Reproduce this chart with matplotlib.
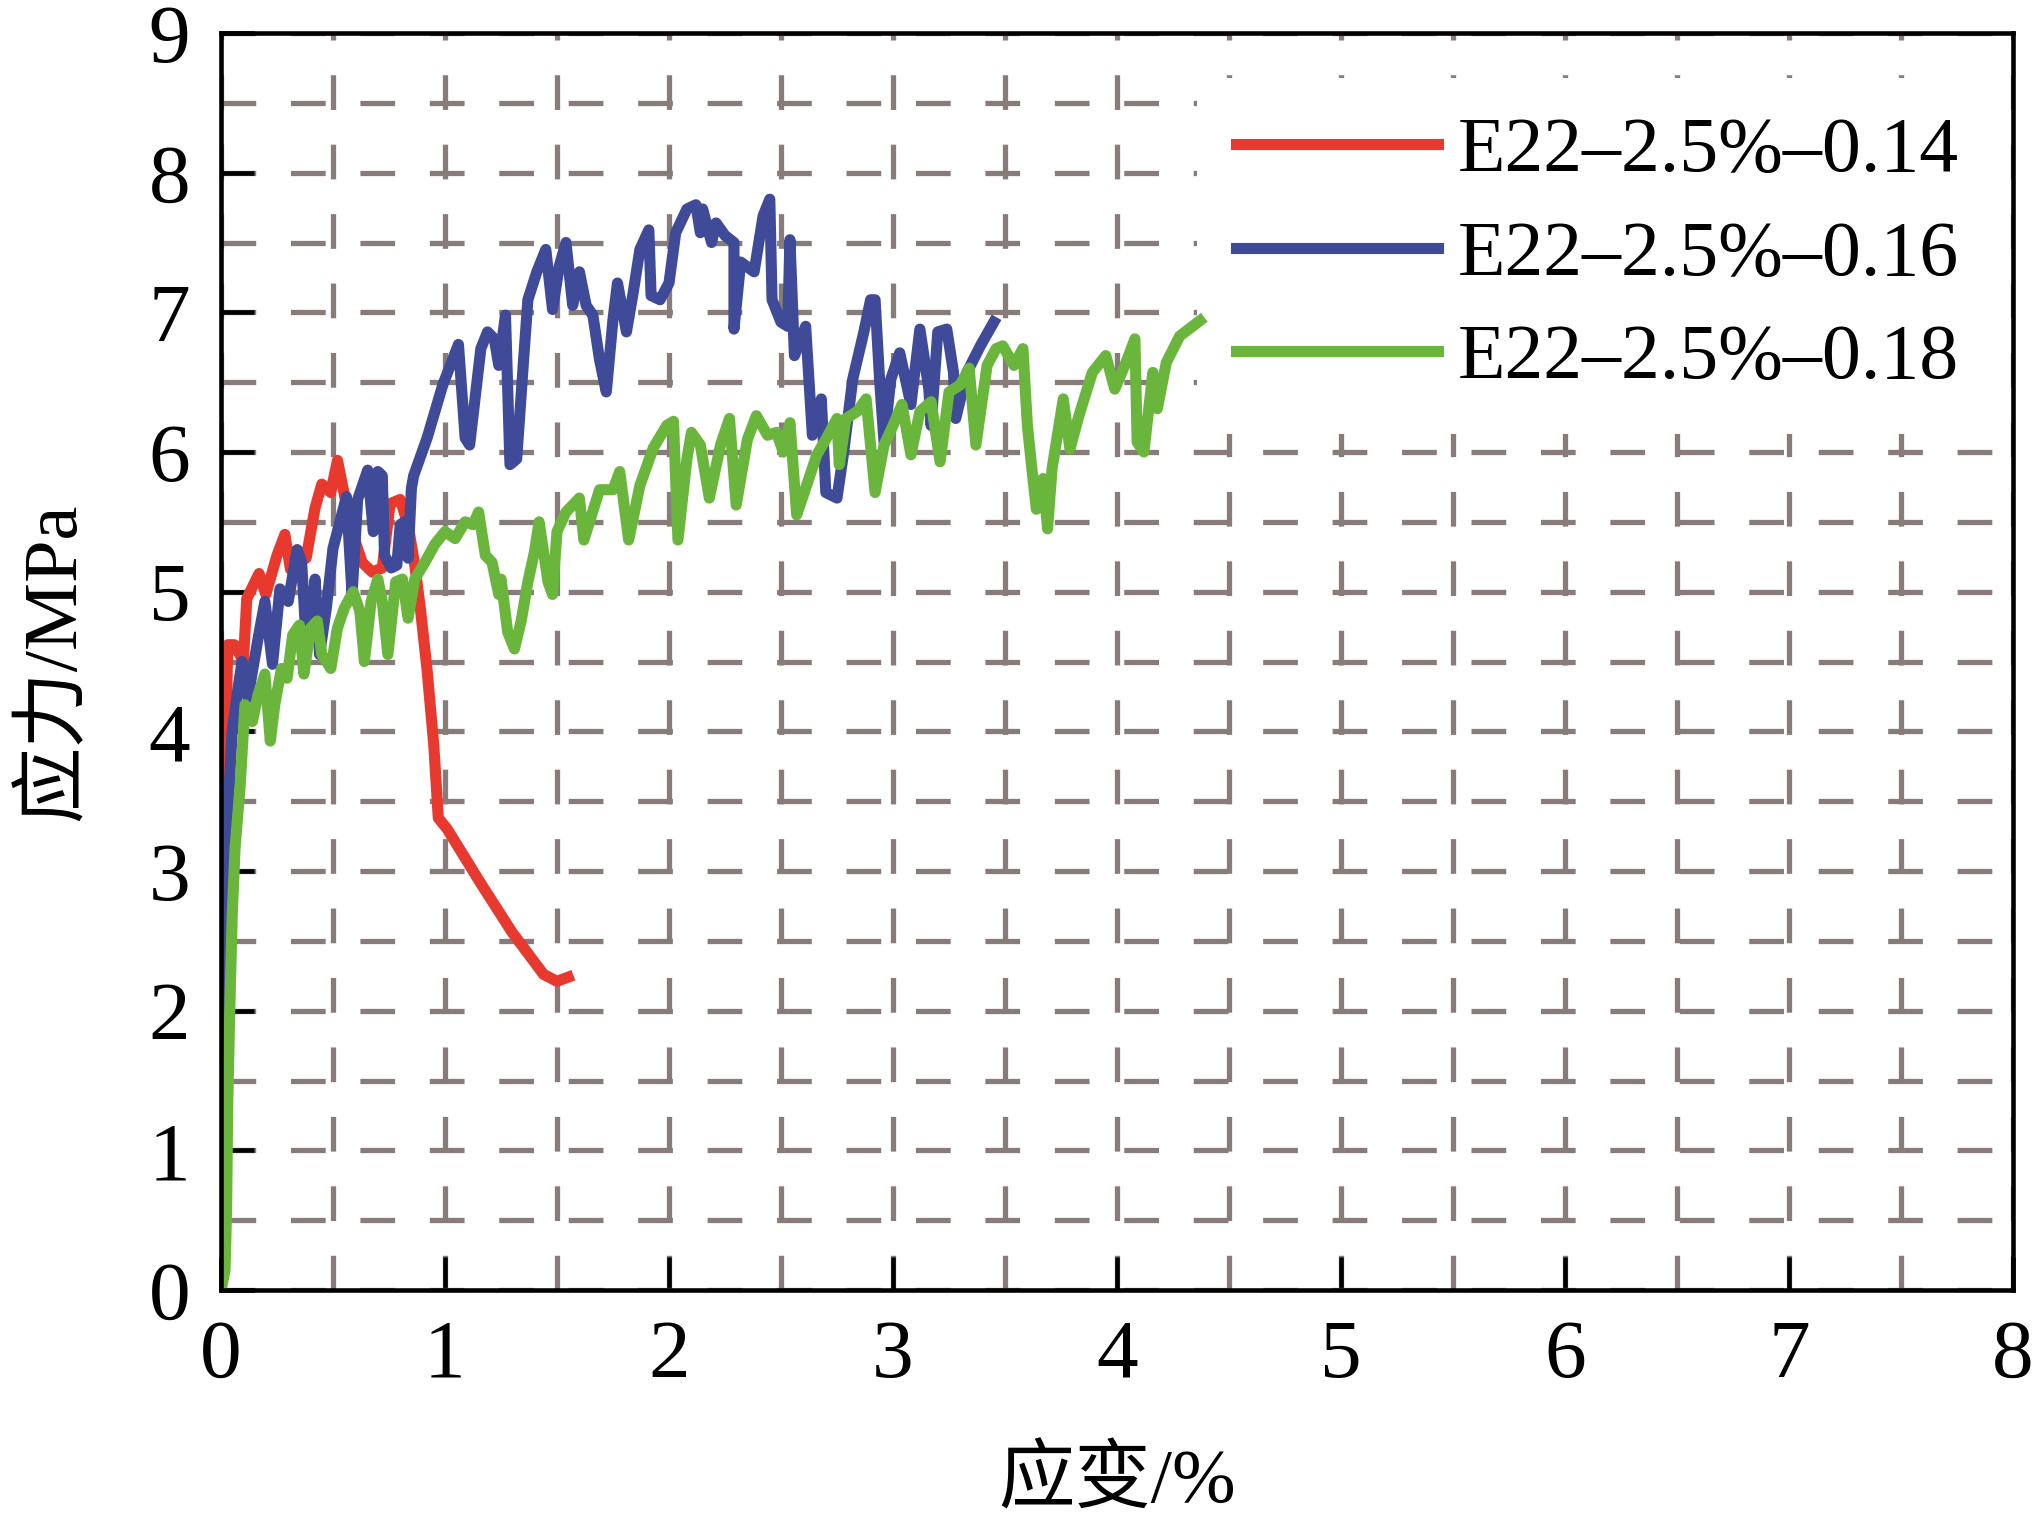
import matplotlib
matplotlib.use("Agg")
import matplotlib.pyplot as plt
from matplotlib.ticker import MultipleLocator

plt.rcParams["font.family"] = ["Liberation Serif", "Noto Sans CJK SC"]
plt.rcParams["lines.scale_dashes"] = False

# E22-2.5%-0.14
x_014 = [0, 0.01, 0.018, 0.03, 0.06, 0.1, 0.115, 0.17, 0.2, 0.25, 0.285, 0.31, 0.34, 0.38,
         0.42, 0.45, 0.49, 0.52, 0.55, 0.585, 0.63, 0.675, 0.72, 0.755, 0.8, 0.835, 0.865,
         0.89, 0.92, 0.95, 0.97, 1.01, 1.16, 1.30, 1.44, 1.50, 1.55]
y_014 = [0, 2.0, 3.6, 4.62, 4.62, 4.5, 4.95, 5.13, 4.98, 5.26, 5.41, 5.16, 5.3, 5.24,
         5.6, 5.77, 5.71, 5.94, 5.7, 5.43, 5.21, 5.14, 5.17, 5.63, 5.66, 5.48, 5.19,
         4.88, 4.44, 3.9, 3.38, 3.3, 2.91, 2.56, 2.26, 2.21, 2.24]

# E22-2.5%-0.16
x_016 = [0, 0.01, 0.018, 0.03, 0.05, 0.076, 0.094, 0.12, 0.165, 0.196, 0.23, 0.263, 0.3,
         0.34, 0.36, 0.375, 0.405, 0.42, 0.44, 0.47, 0.5, 0.56, 0.585, 0.61, 0.655, 0.68,
         0.7, 0.72, 0.73, 0.76, 0.785, 0.8, 0.82, 0.835, 0.85, 0.86, 0.92, 0.99, 1.06,
         1.09, 1.11, 1.16, 1.19, 1.22, 1.24, 1.27, 1.29, 1.32, 1.35, 1.37, 1.41, 1.45,
         1.48, 1.51, 1.54, 1.57, 1.6, 1.63, 1.66, 1.69, 1.72, 1.75, 1.77, 1.81, 1.84,
         1.87, 1.91, 1.92, 1.96, 2.0, 2.03, 2.08, 2.12, 2.14, 2.15, 2.19, 2.21, 2.25,
         2.29, 2.29, 2.32, 2.38, 2.42, 2.45, 2.46, 2.5, 2.53, 2.54, 2.56, 2.61, 2.63,
         2.64, 2.68, 2.7, 2.75, 2.78, 2.82, 2.87, 2.9, 2.92, 2.94, 2.96, 2.99, 3.03,
         3.08, 3.12, 3.16, 3.17, 3.2, 3.24, 3.27, 3.28, 3.33, 3.39, 3.45]
y_016 = [0, 1.5, 2.5, 3.4, 4.0, 4.31, 4.5, 4.24, 4.66, 4.93, 4.48, 5.02, 4.93,
         5.3, 5.21, 4.79, 4.86, 5.09, 4.55, 4.88, 5.31, 5.68, 4.98, 5.66, 5.87, 5.43,
         5.86, 5.83, 5.26, 5.17, 5.19, 5.48, 5.5, 5.24, 5.74, 5.83, 6.1, 6.48, 6.77,
         6.1, 6.05, 6.74, 6.86, 6.81, 6.62, 6.98, 5.91, 5.95, 6.64, 7.09, 7.29, 7.45,
         7.02, 7.33, 7.5, 7.05, 7.29, 7.05, 6.98, 6.66, 6.43, 6.95, 7.21, 6.86, 7.14,
         7.45, 7.59, 7.12, 7.09, 7.21, 7.57, 7.74, 7.77, 7.57, 7.74, 7.5, 7.64, 7.55,
         7.5, 6.88, 7.36, 7.29, 7.69, 7.81, 7.09, 6.93, 6.9, 7.52, 6.69, 6.9, 6.38,
         6.12, 6.38, 5.71, 5.67, 6.0, 6.52, 6.86, 7.09, 7.09, 6.52, 6.07, 6.52, 6.71,
         6.34, 6.88, 6.45, 6.19, 6.86, 6.88, 6.57, 6.24, 6.57, 6.76, 6.93]

# E22-2.5%-0.18
x_018 = [0, 0.018, 0.025, 0.03, 0.04, 0.05, 0.063, 0.085, 0.107, 0.14, 0.165, 0.196, 0.22,
         0.24, 0.27, 0.295, 0.32, 0.35, 0.37, 0.4, 0.43, 0.45, 0.49, 0.52, 0.55, 0.59,
         0.62, 0.64, 0.67, 0.7, 0.72, 0.745, 0.78, 0.81, 0.835, 0.865, 0.91, 0.955, 1.0,
         1.045, 1.09, 1.125, 1.15, 1.18, 1.21, 1.24, 1.25, 1.28, 1.31, 1.34, 1.37, 1.4,
         1.42, 1.46, 1.48, 1.5, 1.54, 1.6, 1.62, 1.69, 1.75, 1.78, 1.82, 1.87, 1.93,
         1.99, 2.02, 2.04, 2.08, 2.1, 2.14, 2.18, 2.23, 2.27, 2.3, 2.35, 2.39, 2.44,
         2.48, 2.51, 2.54, 2.57, 2.61, 2.66, 2.7, 2.75, 2.76, 2.79, 2.84, 2.88, 2.92,
         2.96, 3.0, 3.04, 3.08, 3.12, 3.17, 3.21, 3.25, 3.3, 3.34, 3.37, 3.42, 3.46,
         3.49, 3.54, 3.58, 3.6, 3.62, 3.64, 3.67, 3.69, 3.71, 3.76, 3.79, 3.83, 3.89,
         3.95, 3.99, 4.04, 4.08, 4.09, 4.12, 4.16, 4.18, 4.22, 4.28, 4.37]
y_018 = [0, 0.14, 0.58, 1.33, 2.06, 2.68, 3.17, 3.6, 4.19, 4.07, 4.26, 4.41, 3.93,
         4.19, 4.45, 4.38, 4.69, 4.76, 4.41, 4.74, 4.79, 4.55, 4.45, 4.74, 4.88, 5.0,
         4.86, 4.5, 4.93, 5.09, 4.93, 4.55, 5.07, 5.09, 4.81, 5.09, 5.21, 5.34, 5.43,
         5.38, 5.5, 5.48, 5.57, 5.26, 5.21, 4.98, 5.09, 4.71, 4.59, 4.79, 5.07, 5.29,
         5.5, 5.07, 4.98, 5.43, 5.57, 5.67, 5.37, 5.73, 5.73, 5.86, 5.37, 5.76, 6.03,
         6.19, 6.22, 5.37, 5.95, 6.14, 6.05, 5.67, 6.05, 6.24, 5.62, 6.09, 6.26, 6.12,
         6.14, 6.0, 6.21, 5.55, 5.74, 5.98, 6.09, 6.24, 5.91, 6.24, 6.29, 6.38, 5.71,
         6.05, 6.19, 6.34, 5.98, 6.29, 6.36, 5.93, 6.43, 6.48, 6.6, 6.05, 6.62, 6.74,
         6.76, 6.62, 6.74, 6.19, 5.88, 5.59, 5.81, 5.45, 5.88, 6.38, 6.02, 6.26, 6.57,
         6.69, 6.45, 6.64, 6.81, 6.07, 6.0, 6.57, 6.31, 6.64, 6.83, 6.94]

labels = ["E22\u20132.5%\u20130.14", "E22\u20132.5%\u20130.16", "E22\u20132.5%\u20130.18"]
colors = ["#e8392f", "#3f4a98", "#6ab63c"]

fig = plt.figure(figsize=(20.4, 15.25), dpi=100)
ax = fig.add_axes([221 / 2040, 1 - 1290 / 1525, (2013 - 221) / 2040, (1290 - 33) / 1525])

for xs, ys, lab, c in zip([x_014, x_016, x_018], [y_014, y_016, y_018], labels, colors):
    ax.plot(xs, ys, color=c, linewidth=8, label=lab, solid_joinstyle="round")

ax.set_xlim(0, 8)
ax.set_ylim(0, 9)
ax.xaxis.set_major_locator(MultipleLocator(1))
ax.yaxis.set_major_locator(MultipleLocator(1))
ax.xaxis.set_minor_locator(MultipleLocator(0.5))
ax.yaxis.set_minor_locator(MultipleLocator(0.5))
ax.grid(which="both", color="#877c79", linewidth=3.8, linestyle=(0, (25, 25)))

for s in ax.spines.values():
    s.set_linewidth(3.3)
ax.tick_params(which="major", direction="in", length=24, width=3.3, labelsize=60,
               top=False, right=False)
ax.tick_params(axis="x", which="major", pad=21)
ax.tick_params(axis="y", which="major", pad=22)
ax.tick_params(which="minor", length=0)

ax.set_xlabel("应变/%", fontsize=55, labelpad=38)
ax.set_ylabel("应力/MPa", fontsize=55, labelpad=42)

leg = ax.legend(loc="upper left", bbox_to_anchor=(1197 / 2040, 1 - 78 / 1525),
                bbox_transform=fig.transFigure, fontsize=56, frameon=True,
                fancybox=False, edgecolor="none", facecolor="white", framealpha=1,
                borderpad=0.5, borderaxespad=0, handlelength=2.6, handletextpad=0.25,
                labelspacing=0.41)
leg.set_zorder(1.8)  # above grid, below the curves
for line in leg.get_lines():
    line.set_linewidth(8)

fig.savefig("out.png", dpi=100)
